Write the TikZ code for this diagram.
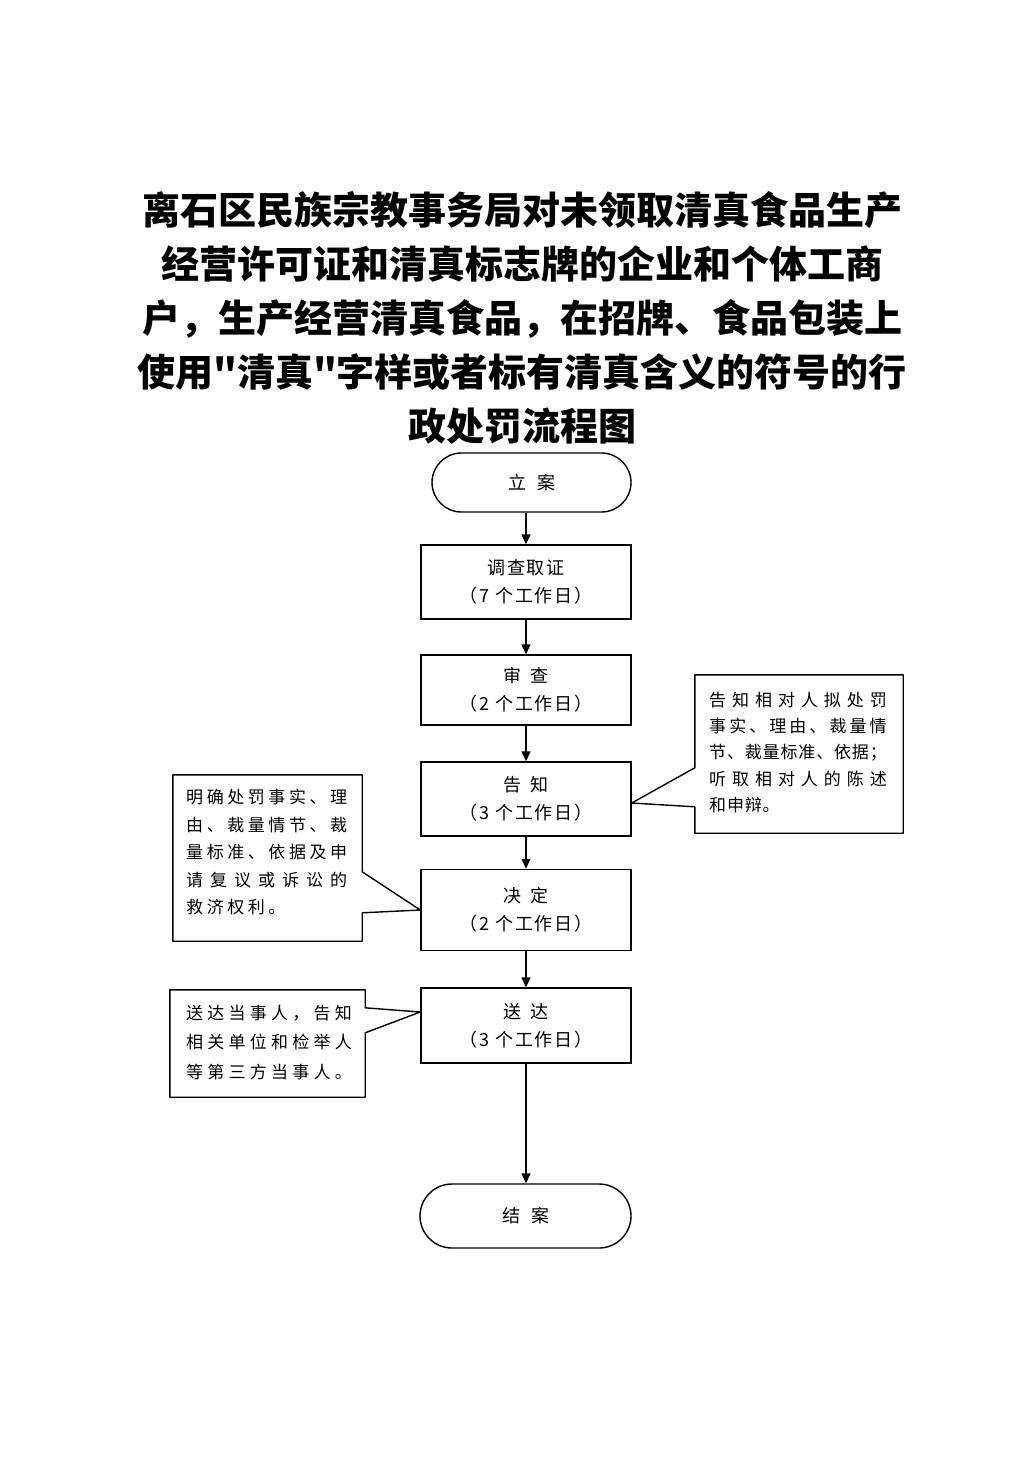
\documentclass[tikz,border=0pt]{standalone}
\usepackage{fontspec}
\usetikzlibrary{arrows.meta,shapes.misc}
\setmainfont{Noto Sans CJK SC}
\newfontfamily\titlefont{Noto Sans CJK SC}
\newfontfamily\boxfont{Noto Sans CJK SC}[LetterSpace=11]
\newfontfamily\naA{Noto Sans CJK SC}[LetterSpace=21]
\newfontfamily\naW{Noto Sans CJK SC}[LetterSpace=41]
\newfontfamily\nbA{Noto Sans CJK SC}[LetterSpace=35]
\newfontfamily\nbB{Noto Sans CJK SC}[LetterSpace=18]
\newfontfamily\nbC{Noto Sans CJK SC}[LetterSpace=5]
\newfontfamily\ncA{Noto Sans CJK SC}[LetterSpace=25]
\begin{document}
\begin{tikzpicture}[x=1pt,y=1pt,
  every node/.style={inner sep=0pt},
  flow/.style={draw, line width=1.4pt, minimum width=210pt, align=center,
    font=\boxfont\fontsize{18}{28}\selectfont},
  term/.style={draw, line width=1.4pt, rounded rectangle, align=center,
    font=\boxfont\fontsize{18}{28}\selectfont},
  arr/.style={line width=1.4pt, -{Triangle[length=10pt,width=9pt]}},
  notetext/.style={anchor=west, align=left},
  outline/.style={line width=1.4pt, line join=round}]
\useasboundingbox (0,0) rectangle (1033,-1461);
\fill[white] (0,0) rectangle (1033,-1461);

\node[font=\titlefont\bfseries\fontsize{38}{54}\selectfont, align=center] (title) at (522,-318)
  {离石区民族宗教事务局对未领取清真食品生产\\经营许可证和清真标志牌的企业和个体工商\\户，生产经营清真食品，在招牌、食品包装上\\使用"清真"字样或者标有清真含义的符号的行\\政处罚流程图};

\node[term, minimum width=199pt, minimum height=59pt] (la) at (531.5,-482.5) {立\hspace{11pt}案};
\node[flow, minimum height=74pt] (dc) at (526,-582) {调查取证\\（7 个工作日）};
\node[flow, minimum height=70pt] (sc) at (526,-690) {审\hspace{10pt}查\\（2 个工作日）};
\node[flow, minimum height=74pt] (gz) at (526,-799) {告\hspace{9pt}知\\（3 个工作日）};
\node[flow, minimum height=81pt] (jd) at (526,-910) {决\hspace{9pt}定\\（2 个工作日）};
\node[flow, minimum height=75pt] (sd) at (526,-1025.5) {送\hspace{9pt}达\\（3 个工作日）};
\node[term, minimum width=211pt, minimum height=64pt] (ja) at (525.5,-1216) {结\hspace{11pt}案};

\draw[arr] (dc.north |- la.south) -- (dc.north);
\draw[arr] (dc.south) -- (sc.north);
\draw[arr] (sc.south) -- (gz.north);
\draw[arr] (gz.south) -- (jd.north);
\draw[arr] (jd.south) -- (sd.north);
\draw[arr] (sd.south) -- (sd.south |- ja.north);

% left note 1
\node[minimum width=189pt, minimum height=166pt] (n1) at (267.5,-858) {};
\node[notetext, font=\naA\fontsize{17}{27.5}\selectfont] (t1) at (186,-852.5)
  {明确处罚事实、理\\由、裁量情节、裁\\量标准、依据及申\\{\naW 请复议或诉讼的}\\救济权利。};
\draw[outline] (n1.north west) -- (n1.north east) -- ([yshift=-97pt]n1.north east)
  -- (jd.west) -- ([yshift=-138pt]n1.north east) -- (n1.south east) -- (n1.south west) -- cycle;

% right note
\node[minimum width=208pt, minimum height=158pt] (n2) at (799,-754) {};
\node[notetext, font=\nbA\fontsize{17}{26.3}\selectfont] (t2) at (709,-752.5)
  {告知相对人拟处罚\\{\nbB 事实、理由、裁量情}\\{\nbC 节、裁量标准、依据；}\\听取相对人的陈述\\{\nbC 和申辩。}};
\draw[outline] (n2.north east) -- (n2.north west) -- ([yshift=-93pt]n2.north west)
  -- ([yshift=-4pt]gz.east) -- ([yshift=-132pt]n2.north west) -- (n2.south west) -- (n2.south east) -- cycle;

% left note 2
\node[minimum width=195pt, minimum height=107pt] (n3) at (267.5,-1043.5) {};
\node[notetext, font=\ncA\fontsize{17}{29.5}\selectfont] (t3) at (186,-1042.5)
  {送达当事人，告知\\相关单位和检举人\\等第三方当事人。};
\draw[outline] (n3.north west) -- (n3.north east) -- ([yshift=-18pt]n3.north east)
  -- ([yshift=13.5pt]sd.west) -- ([yshift=-43pt]n3.north east) -- (n3.south east) -- (n3.south west) -- cycle;
\end{tikzpicture}
\end{document}
